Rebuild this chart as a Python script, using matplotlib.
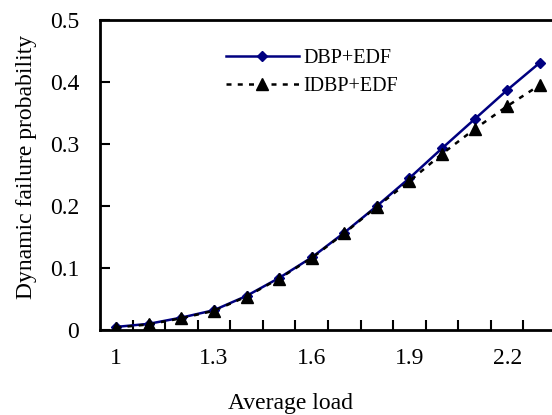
import matplotlib
matplotlib.use("Agg")
import matplotlib.pyplot as plt
import numpy as np

# average load categories and failure probabilities
load = [1.0, 1.1, 1.2, 1.3, 1.4, 1.5, 1.6, 1.7, 1.8, 1.9, 2.0, 2.1, 2.2, 2.3]
dbp_edf = [0.005, 0.010, 0.020, 0.032, 0.055, 0.084, 0.117, 0.157, 0.200,
           0.245, 0.293, 0.340, 0.387, 0.431]
idbp_edf = [0.004, 0.009, 0.019, 0.031, 0.054, 0.083, 0.116, 0.156, 0.199,
            0.240, 0.284, 0.324, 0.361, 0.395]
xtick_labels = ["1", "1.3", "1.6", "1.9", "2.2"]
yticks = [0, 0.1, 0.2, 0.3, 0.4, 0.5]
ytick_labels = ["0", "0.1", "0.2", "0.3", "0.4", "0.5"]

plt.rcParams["font.family"] = ["Liberation Serif", "DejaVu Serif"]
plt.rcParams["font.size"] = 17

fig = plt.figure(figsize=(5.52, 4.15), dpi=100)
ax = fig.add_axes([100 / 552, 1 - 330 / 415, 456 / 552, 310 / 415])

ax.plot(load, dbp_edf, color="#000080", lw=1.8, marker="D", ms=5.5,
        label="DBP+EDF", zorder=2)
ax.plot(load, idbp_edf, color="black", lw=1.8, ls=(0, (2, 2.5)), marker="^",
        ms=8.5, label="IDBP+EDF", zorder=3)

ax.set_xlim(0.95, 2.35)
ax.set_ylim(0, 0.5)

# category-style axis: labels every third point, tick marks between points
ax.set_xticks([float(s) for s in xtick_labels])
ax.set_xticklabels(xtick_labels)
ax.set_xticks(np.arange(1.05, 2.36, 0.1), minor=True)
ax.tick_params(axis="x", which="major", length=0, pad=13)
ax.tick_params(axis="x", which="minor", direction="in", length=7, width=1.5)
ax.set_yticks(yticks)
ax.set_yticklabels(ytick_labels)
ax.tick_params(axis="y", direction="in", length=7, width=1.5, pad=15)

for s in ax.spines.values():
    s.set_linewidth(2)

ax.set_xlabel("Average load")
ax.xaxis.set_label_coords((291 - 100) / 456, -(393 - 330) / 310)
ax.set_ylabel("Dynamic failure probability")
ax.yaxis.set_label_coords(-(100 - 37) / 456, (330 - 167) / 310)

ax.legend(loc="upper left", bbox_to_anchor=((226 - 100) / 456, (330 - 49) / 310),
          frameon=False, borderpad=0, borderaxespad=0, handlelength=3.6,
          handletextpad=0.25, labelspacing=0.45, fontsize=14.5)

fig.savefig("out.png", dpi=100)
